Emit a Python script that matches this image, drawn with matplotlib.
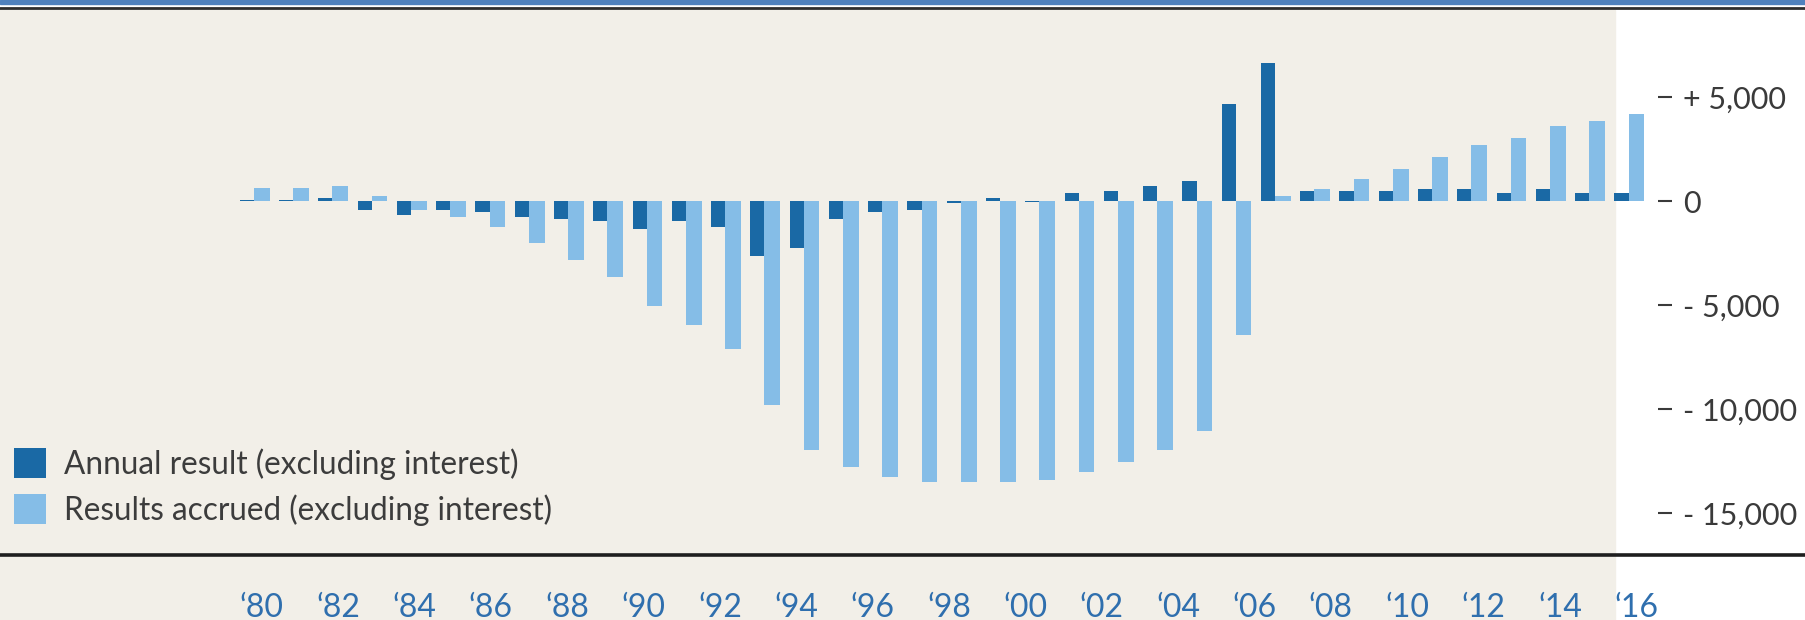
import matplotlib
matplotlib.use("Agg")
import matplotlib.pyplot as plt
import numpy as np
from matplotlib.patches import Rectangle
from matplotlib.lines import Line2D

plt.rcParams['font.family'] = ['Lato', 'DejaVu Sans']

# values (one pair per year, '80 .. '16)
annual = [80, 80, 170, -405, -640, -405, -515, -755, -865, -960, -1325, -960,
          -1215, -2610, -2245, -865, -515, -405, -80, 150, -50, 420, 515, 760,
          975, 4675, 6640, 500, 500, 500, 610, 610, 390, 610, 390, 390]
accrued = [630, 630, 740, 280, -405, -755, -1215, -2020, -2830, -3625, -5020,
           -5960, -7100, -9765, -11970, -12780, -13260, -13480, -13480, -13480,
           -13370, -13020, -12540, -11960, -11045, -6400, 275, 610, 1085, 1550,
           2130, 2700, 3055, 3625, 3865, 4210]
tick_labels = ['\u201880', '\u201882', '\u201884', '\u201886', '\u201888', '\u201890',
               '\u201892', '\u201894', '\u201896', '\u201898', '\u201800', '\u201802',
               '\u201804', '\u201806', '\u201808', '\u201810', '\u201812', '\u201814',
               '\u201816']
y_ticks = [5000, 0, -5000, -10000, -15000]
y_labels = ['+ 5,000', '0', '- 5,000', '- 10,000', '- 15,000']
legend_labels = ['Annual result (excluding interest)',
                 'Results accrued (excluding interest)']

dark = '#1a69a5'
light = '#85bde7'
beige = '#f2efe8'

W, H = 1805, 620
fig = plt.figure(figsize=(W / 100, H / 100), dpi=100, facecolor='white')


def fx(px):
    return px / W


def fy(py):
    return 1 - py / H


# background panels and rules
fig.patches.append(Rectangle((0, 0), fx(1615), fy(10), transform=fig.transFigure,
                             color=beige, zorder=-2))
fig.patches.append(Rectangle((0, fy(4)), 1, 4 / H, transform=fig.transFigure,
                             color='#4f81bd', zorder=-1))
fig.lines.append(Line2D([0, 1], [fy(8), fy(8)], transform=fig.transFigure,
                        color='#2e2e2e', lw=2.0, zorder=10))
fig.lines.append(Line2D([0, 1], [fy(555), fy(555)], transform=fig.transFigure,
                        color='#1e1e1e', lw=2.6, zorder=10))

ax = fig.add_axes([fx(215), fy(553), fx(1658) - fx(215), (553 - 10) / H])
ax.set_zorder(3)
ax.patch.set_alpha(0)
for s in ax.spines.values():
    s.set_visible(False)

x = np.arange(len(annual))
b1 = ax.bar(x, annual, width=-0.36, align='edge', color=dark, label=legend_labels[0])
b2 = ax.bar(x, accrued, width=0.40, align='edge', color=light, label=legend_labels[1])

ax.set_xlim(-0.99, 35.75)
ax.set_ylim(-16900, 9200)

ax.yaxis.tick_right()
ax.set_yticks(y_ticks)
ax.set_yticklabels(y_labels)
ax.tick_params(axis='y', direction='out', length=10, width=1.5, pad=8,
               colors='#3a3a3a', labelsize=22)

tick_pos = np.linspace(0.2, 35.2, len(tick_labels))
ax.set_xticks(tick_pos)
ax.set_xticklabels(tick_labels)
ax.tick_params(axis='x', length=0, pad=29, labelcolor='#2f6fae', labelsize=23)

leg = ax.legend(handles=[b1, b2], loc='upper left', bbox_to_anchor=(fx(14), fy(448)),
                bbox_transform=fig.transFigure, frameon=False, fontsize=22.7,
                handlelength=1.0, handleheight=1.1, handletextpad=0.6,
                labelspacing=0.45, borderaxespad=0, borderpad=0, labelcolor='#3c3c3c')

fig.savefig('out.png', dpi=100, facecolor=fig.get_facecolor())
